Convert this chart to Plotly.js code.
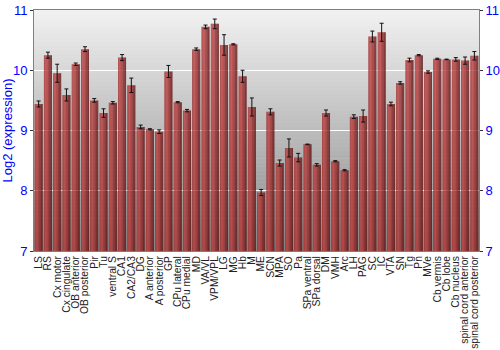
<!DOCTYPE html>
<html>
<head>
<meta charset="utf-8">
<script src="https://cdn.plot.ly/plotly-3.0.1.min.js"></script>
<style>html,body{margin:0;padding:0;background:#fff}#chart{width:500px;height:350px}</style>
</head>
<body>
<div id="chart"></div>
<script>
const regions = ["LS","RS","Cx motor","Cx cingulate","OB anterior","OB posterior","Pir","Tu","ventral S","CA1","CA2/CA3","DG","A anterior","A posterior","GP","CPu lateral","CPu medial","MD","VA/VL","VPM/VPL","LG","MG","Hb","M","ME","SCN","MPA","SO","Pa","SPa ventral","SPa dorsal","DM","VMH","Arc","LH","PAG","SC","IC","VTA","SN","Tg","Pn","MVe","Cb vermis","Cb lobe","Cb nucleus","spinal cord anterior","spinal cord posterior"];
const expression = [9.44,10.25,9.95,9.59,10.10,10.35,9.50,9.29,9.46,10.21,9.75,9.06,9.02,8.98,9.98,9.47,9.33,10.35,10.72,10.77,10.42,10.43,9.90,9.39,7.97,9.31,8.46,8.71,8.55,8.77,8.43,9.29,8.49,8.34,9.23,9.24,10.56,10.63,9.44,9.79,10.17,10.25,9.97,10.19,10.18,10.18,10.16,10.24];
const sem = [0.05,0.05,0.15,0.10,0.02,0.04,0.03,0.07,0.02,0.05,0.12,0.03,0.01,0.03,0.10,0.01,0.02,0.02,0.03,0.08,0.17,0.01,0.10,0.15,0.05,0.05,0.05,0.15,0.07,0.005,0.02,0.05,0.01,0.01,0.03,0.10,0.09,0.15,0.03,0.02,0.03,0.01,0.02,0.01,0.005,0.03,0.06,0.07];
const yTicks = [7,8,9,10,11];

(function () {
  // horizontal shading across each bar (left -> right)
  const shades = ["#a02a2a","#b33434","#bc3a3a","#ba3939","#b03333","#a42d2d","#972727","#892020","#7a1a1a","#6b1414","#5d1010"];
  const barW = 0.86;
  const traces = [];
  const sw = barW / shades.length;
  shades.forEach((c, i) => {
    traces.push({
      type: "bar", x: regions, y: expression.map(v => v - 7), base: 7,
      width: sw * 1.02, offset: -barW/2 + i*sw,
      marker: {color: c, line: {width: 0}}, opacity: 0.97,
      hoverinfo: "skip", showlegend: false
    });
  });
  traces.push({
    type: "scatter", mode: "markers", x: regions, y: expression,
    marker: {size: 1, color: "rgba(0,0,0,0)"},
    error_y: {type: "data", array: sem, visible: true, color: "#111", thickness: 1, width: 2},
    showlegend: false, hoverinfo: "skip"
  });
  traces.push({type: "scatter", mode: "markers", x: [regions[0]], y: [7], yaxis: "y2", marker: {color: "rgba(0,0,0,0)"}, showlegend: false, hoverinfo: "skip"});

  // gradient background strips
  const shapes = [];
  const N = 60;
  const cTop = [242,242,242], cBot = [134,134,134];
  for (let i = 0; i < N; i++) {
    const t = (i + 0.5) / N;
    const c = cTop.map((a, k) => Math.round(a + (cBot[k] - a) * t));
    shapes.push({type: "rect", xref: "paper", yref: "paper", x0: 0, x1: 1,
      y0: 1 - (i + 1) / N, y1: 1 - i / N + 0.001, fillcolor: `rgb(${c.join(",")})`,
      line: {width: 0}, layer: "below"});
  }

  const axisFont = {family: "Liberation Sans, Arial, sans-serif", size: 13, color: "#0000ff"};
  const layout = {
    width: 500, height: 350,
    margin: {l: 34, r: 21, t: 10, b: 99},
    paper_bgcolor: "#ffffff", plot_bgcolor: "#cccccc",
    barmode: "overlay",
    showlegend: false,
    shapes: shapes,
    xaxis: {
      type: "category", tickangle: -90, ticks: "", showgrid: false,
      tickmode: "array", tickvals: regions, ticktext: regions,
      tickfont: {family: "Liberation Sans, Arial, sans-serif", size: 10.3, color: "#222"},
      showline: true, linecolor: "#808080", mirror: true, zeroline: false,
      range: [-0.5, regions.length - 0.5], automargin: false
    },
    yaxis: {
      range: [7, 11], tickvals: yTicks, ticks: "outside", ticklen: 3, tickcolor: "#333",
      tickfont: axisFont, showgrid: true, gridcolor: "#ffffff", gridwidth: 1,
      showline: true, linecolor: "#808080", zeroline: false,
      title: {text: "Log2 (expression)", font: {family: "Liberation Sans, Arial, sans-serif", size: 13, color: "#0000ff"}, standoff: 4}
    },
    yaxis2: {
      overlaying: "y", side: "right", matches: "y", range: [7, 11], tickvals: yTicks,
      ticks: "outside", ticklen: 3, tickcolor: "#333", tickfont: axisFont,
      showgrid: false, showline: true, linecolor: "#808080", zeroline: false
    }
  };
  Plotly.newPlot("chart", traces, layout, {displayModeBar: false, staticPlot: true});
})();
</script>
</body>
</html>
